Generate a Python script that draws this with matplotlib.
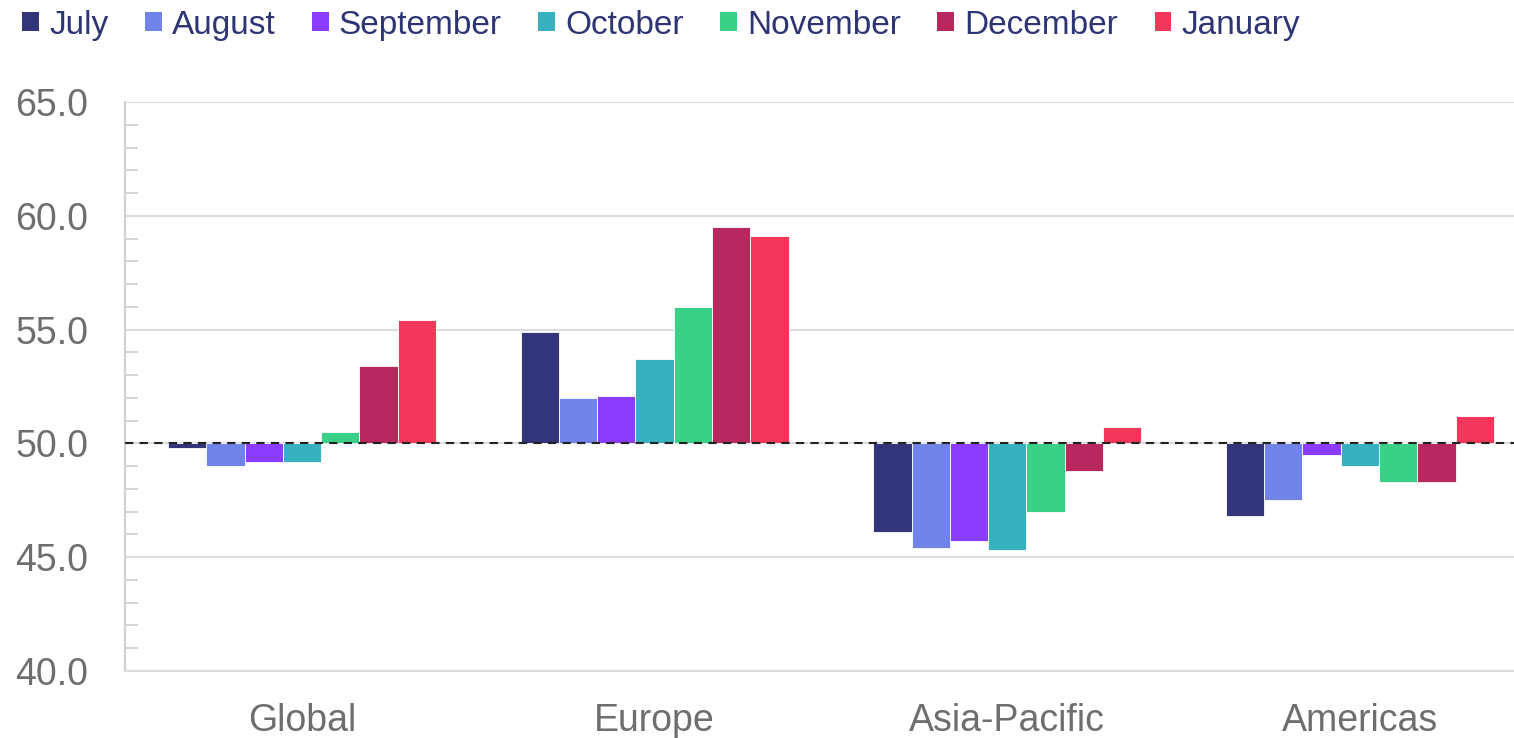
import numpy as np
import matplotlib
matplotlib.use("Agg")
from matplotlib import pyplot as plt
from matplotlib.patches import Patch
from matplotlib.ticker import MultipleLocator, FormatStrFormatter

plt.rcParams['font.family'] = ['Liberation Sans', 'DejaVu Sans']

regions = ['Global', 'Europe', 'Asia-Pacific', 'Americas']
months = ['July', 'August', 'September', 'October', 'November', 'December', 'January']
colours = ['#32357a', '#6f83e8', '#8b3dff', '#38b1bf', '#3ad088', '#b8285e', '#f2375a']

# index readings per month, one value per region
july = [49.8, 54.9, 46.1, 46.8]
august = [49.0, 52.0, 45.4, 47.5]
september = [49.2, 52.1, 45.7, 49.5]
october = [49.2, 53.7, 45.3, 49.0]
november = [50.5, 56.0, 47.0, 48.3]
december = [53.4, 59.5, 48.8, 48.3]
january = [55.4, 59.1, 50.7, 51.2]
series = [july, august, september, october, november, december, january]

baseline = 50.0

fig = plt.figure(figsize=(15.14, 7.38), dpi=100)
ax = fig.add_axes([125 / 1514, 1 - 671 / 738, 1 - 125 / 1514, (671 - 102) / 738])

x = np.arange(len(regions))
width = 0.1086
for i, (vals, c) in enumerate(zip(series, colours)):
    vals = np.array(vals)
    ax.bar(x + (i - 3) * width, vals - baseline, width, bottom=baseline,
           color=c, edgecolor='white', linewidth=0.6, zorder=3)

ax.axhline(baseline, color='#222222', linestyle=(0, (4, 3)), linewidth=1.5, zorder=4)

ax.set_ylim(40, 65)
ax.set_xlim(-0.502, 3.437)
ax.yaxis.set_major_locator(MultipleLocator(5))
ax.yaxis.set_minor_locator(MultipleLocator(1))
ax.yaxis.set_major_formatter(FormatStrFormatter('%.1f'))
ax.grid(axis='y', which='major', color='#dcdcdc', linewidth=1.5, zorder=0)

for s in ['top', 'right']:
    ax.spines[s].set_visible(False)
ax.spines['left'].set_color('#d0d0d0')
ax.spines['left'].set_linewidth(1.5)
ax.spines['bottom'].set_color('#dcdcdc')
ax.spines['bottom'].set_linewidth(1.5)

ax.tick_params(axis='y', which='major', length=0, pad=26.5, labelsize=27, labelcolor='#6e6e6e')
ax.tick_params(axis='y', which='minor', direction='in', length=9, width=1.2, color='#d0d0d0')
ax.tick_params(axis='x', length=0, pad=23, labelsize=27, labelcolor='#6e6e6e')
ax.set_xticks(x)
ax.set_xticklabels(regions)

handles = [Patch(facecolor=c, edgecolor='none') for c in colours]
fig.legend(handles, months, loc='upper left', bbox_to_anchor=(0.006, 1.005), ncol=7,
           borderaxespad=0, frameon=False, fontsize=24, labelcolor='#2e3575',
           handlelength=0.5, handleheight=0.5, handletextpad=0.3, columnspacing=1.1)

fig.savefig('out.png', dpi=100)
